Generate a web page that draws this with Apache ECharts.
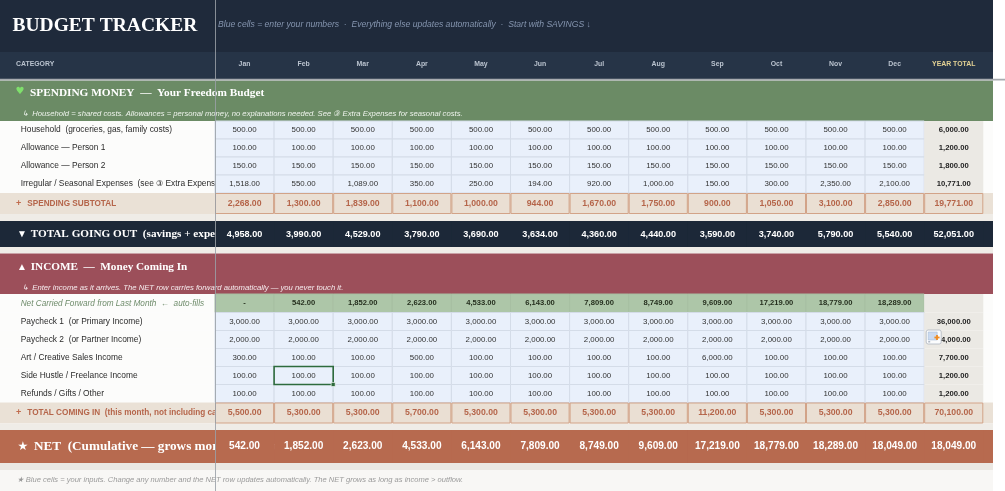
<!DOCTYPE html>
<html>
<head>
<meta charset="utf-8">
<script src="https://cdn.jsdelivr.net/npm/echarts@6/dist/echarts.min.js"></script>
<style>
  html, body { margin: 0; padding: 0; background: #fff; }
  #main { width: 1005px; height: 491px; }
</style>
</head>
<body>
<div id="main"></div>
<script>
// ---- values ----
const months = ['Jan', 'Feb', 'Mar', 'Apr', 'May', 'Jun', 'Jul', 'Aug', 'Sep', 'Oct', 'Nov', 'Dec'];
const totalColumn = 'YEAR TOTAL';

const spendingLabels = ['Household  (groceries, gas, family costs)', 'Allowance — Person 1', 'Allowance — Person 2', 'Irregular / Seasonal Expenses  (see ③ Extra Expenses)'];
const household  = [500, 500, 500, 500, 500, 500, 500, 500, 500, 500, 500, 500];
const allowance1 = [100, 100, 100, 100, 100, 100, 100, 100, 100, 100, 100, 100];
const allowance2 = [150, 150, 150, 150, 150, 150, 150, 150, 150, 150, 150, 150];
const irregular  = [1518, 550, 1089, 350, 250, 194, 920, 1000, 150, 300, 2350, 2100];
const spendingYear = [6000, 1200, 1800, 10771];
const spendingSubtotal = [2268, 1300, 1839, 1100, 1000, 944, 1670, 1750, 900, 1050, 3100, 2850];
const spendingSubtotalYear = 19771;
const totalGoingOut = [4958, 3990, 4529, 3790, 3690, 3634, 4360, 4440, 3590, 3740, 5790, 5540];
const totalGoingOutYear = 52051;

const carriedForward = [0, 542, 1852, 2623, 4533, 6143, 7809, 8749, 9609, 17219, 18779, 18289];
const incomeLabels = ['Paycheck 1  (or Primary Income)', 'Paycheck 2  (or Partner Income)', 'Art / Creative Sales Income', 'Side Hustle / Freelance Income', 'Refunds / Gifts / Other'];
const paycheck1 = [3000, 3000, 3000, 3000, 3000, 3000, 3000, 3000, 3000, 3000, 3000, 3000];
const paycheck2 = [2000, 2000, 2000, 2000, 2000, 2000, 2000, 2000, 2000, 2000, 2000, 2000];
const artSales  = [300, 100, 100, 500, 100, 100, 100, 100, 6000, 100, 100, 100];
const sideHustle = [100, 100, 100, 100, 100, 100, 100, 100, 100, 100, 100, 100];
const refunds   = [100, 100, 100, 100, 100, 100, 100, 100, 100, 100, 100, 100];
const incomeYear = [36000, 24000, 7700, 1200, 1200];
const totalComingIn = [5500, 5300, 5300, 5700, 5300, 5300, 5300, 5300, 11200, 5300, 5300, 5300];
const totalComingInYear = 70100;
const netCumulative = [542, 1852, 2623, 4533, 6143, 7809, 8749, 9609, 17219, 18779, 18289, 18049];
const netYear = 18049;

// ---- row layout (pixel top / bottom of each sheet row) ----
const layout = {
  title: [0, 52], header: [52, 79], spendHead: [80.5, 121],
  household: [121, 139], allow1: [139, 157], allow2: [157, 175], irregular: [175, 193],
  spendSub: [193, 214], gap1: [214, 221], goingOut: [221, 247], gap2: [247, 253.5],
  incomeHead: [253.5, 294], carried: [294, 312.5],
  pay1: [312.5, 330.5], pay2: [330.5, 348.5], art: [348.5, 366.5], side: [366.5, 384.5], refunds: [384.5, 402.5],
  inSub: [402.5, 423.5], gap3: [423.5, 430], net: [430, 463], gap4: [463, 470], foot: [470, 491]
};

const SANS = '"Liberation Sans", Arial, sans-serif';
const SERIF = '"Liberation Serif", "Times New Roman", serif';

// table rows built from the arrays above
const tableRows = [
  { key: 'household', kind: 'input', label: spendingLabels[0], values: household, total: spendingYear[0] },
  { key: 'allow1', kind: 'input', label: spendingLabels[1], values: allowance1, total: spendingYear[1] },
  { key: 'allow2', kind: 'input', label: spendingLabels[2], values: allowance2, total: spendingYear[2] },
  { key: 'irregular', kind: 'input', label: spendingLabels[3], values: irregular, total: spendingYear[3] },
  { key: 'spendSub', kind: 'sub', values: spendingSubtotal, total: spendingSubtotalYear },
  { key: 'goingOut', kind: 'dark', values: totalGoingOut, total: totalGoingOutYear },
  { key: 'carried', kind: 'carried', label: 'Net Carried Forward from Last Month  ←  auto-fills', values: carriedForward, total: null },
  { key: 'pay1', kind: 'input', label: incomeLabels[0], values: paycheck1, total: incomeYear[0] },
  { key: 'pay2', kind: 'input', label: incomeLabels[1], values: paycheck2, total: incomeYear[1] },
  { key: 'art', kind: 'input', label: incomeLabels[2], values: artSales, total: incomeYear[2] },
  { key: 'side', kind: 'input', label: incomeLabels[3], values: sideHustle, total: incomeYear[3] },
  { key: 'refunds', kind: 'input', label: incomeLabels[4], values: refunds, total: incomeYear[4] },
  { key: 'inSub', kind: 'sub', values: totalComingIn, total: totalComingInYear },
  { key: 'net', kind: 'net', values: netCumulative, total: netYear }
];

const cells = [];
tableRows.forEach((row, r) => {
  row.values.forEach((v, i) => cells.push({ col: i, row: r, value: v }));
  cells.push({ col: 12, row: r, value: row.total });
});

function fmt(v) {
  if (v === null || v === undefined) return '';
  if (v === 0) return '-';
  return v.toLocaleString('en-US', { minimumFractionDigits: 2, maximumFractionDigits: 2 });
}

function cellStyle(kind, isTotal) {
  if (kind === 'input') {
    return isTotal
      ? { fill: '#ebe9e4', stroke: null, font: 'bold 7.7px ' + SANS, color: '#1d1d1d' }
      : { fill: '#e9f0fb', stroke: '#d4dce8', font: '7.9px ' + SANS, color: '#333' };
  }
  if (kind === 'carried') {
    return isTotal
      ? { fill: '#ebe9e4', stroke: null, font: 'bold 7.6px ' + SANS, color: '#222' }
      : { fill: '#adc6a8', stroke: '#a7bfa2', font: 'bold 7.6px ' + SANS, color: '#26301f' };
  }
  if (kind === 'sub') return { fill: '#eadfd3', stroke: '#d2a388', font: 'bold 8.7px ' + SANS, color: '#b5654a', inset: 0.5 };
  if (kind === 'dark') return { fill: '#1c2838', stroke: null, font: 'bold 9.1px ' + SANS, color: '#fff' };
  return { fill: '#b76a4f', stroke: null, font: 'bold 10.1px ' + SANS, color: '#fff' };
}

function cellBox(api, col, key) {
  const [top, bottom] = layout[key];
  const p0 = api.coord([col, top]);
  const p1 = api.coord([col, bottom]);
  const w = api.size([1, 0])[0];
  return { cx: p0[0], x: p0[0] - w / 2, y: p0[1], w: w, h: p1[1] - p0[1] };
}

function renderCell(params, api) {
  const cell = cells[params.dataIndex];
  const row = tableRows[cell.row];
  const b = cellBox(api, cell.col, row.key);
  const st = cellStyle(row.kind, cell.col === 12);
  const ins = st.inset || 0;
  return {
    type: 'group',
    children: [
      { type: 'rect', shape: { x: b.x + ins, y: b.y + ins, width: b.w - 2 * ins, height: b.h - 2 * ins },
        style: { fill: st.fill, stroke: st.stroke, lineWidth: st.stroke ? 1 : 0 } },
      { type: 'text', x: b.cx, y: b.y + b.h / 2,
        style: { text: fmt(cell.value), align: 'center', verticalAlign: 'middle', font: st.font, fill: st.color } }
    ]
  };
}

// selected cell (Feb, Side Hustle) and the paste-options button over Paycheck 2 total
const overlays = [
  { type: 'selection', col: 1, key: 'side' },
  { type: 'paste', col: 12, key: 'pay2' }
];
function renderOverlay(params, api) {
  const o = overlays[params.dataIndex];
  const b = cellBox(api, o.col, o.key);
  if (o.type === 'selection') {
    return { type: 'group', children: [
      { type: 'rect', shape: { x: b.x, y: b.y, width: b.w, height: b.h }, style: { fill: null, stroke: '#2e6b3d', lineWidth: 1.6 } },
      { type: 'rect', shape: { x: b.x + b.w - 2, y: b.y + b.h - 2, width: 4, height: 4 }, style: { fill: '#2e6b3d', stroke: '#fff', lineWidth: 0.6 } }
    ] };
  }
  const x = b.x + 2, y = b.y - 0.5;
  return { type: 'group', children: [
    { type: 'rect', shape: { x: x, y: y, width: 15, height: 14, r: 2 }, style: { fill: '#fbfcfd', stroke: '#aeb5bf', lineWidth: 0.8 } },
    { type: 'rect', shape: { x: x + 2, y: y + 2, width: 9, height: 8 }, style: { fill: '#cbdaf0', stroke: '#9fb4d3', lineWidth: 0.5 } },
    { type: 'rect', shape: { x: x + 2, y: y + 11, width: 2, height: 1.5 }, style: { fill: '#b0b8c4' } },
    { type: 'rect', shape: { x: x + 8.2, y: y + 6.6, width: 5.2, height: 1.8 }, style: { fill: '#f08c22' } },
    { type: 'rect', shape: { x: x + 9.9, y: y + 4.9, width: 1.8, height: 5.2 }, style: { fill: '#f08c22' } }
  ] };
}

// ---- sheet chrome ----
const graphic = [];
function band(key, color, width) {
  const [t, b] = layout[key];
  graphic.push({ type: 'rect', z: 0, shape: { x: 0, y: t, width: width || 993, height: b - t }, style: { fill: color } });
}
function label(x, y, text, font, fill) {
  graphic.push({ type: 'text', z: 1, x: x, y: y, style: { text: text, font: font, fill: fill, align: 'left', verticalAlign: 'middle' } });
}
function mid(key) { return (layout[key][0] + layout[key][1]) / 2; }

band('title', '#1f2a3b');
band('header', '#263447');
band('spendHead', '#6b8b65');
['household', 'allow1', 'allow2', 'irregular', 'carried', 'pay1', 'pay2', 'art', 'side', 'refunds'].forEach(k => band(k, '#fcfcfb'));
band('spendSub', '#eae1d6');
band('gap1', '#efece7');
band('goingOut', '#1c2838');
band('gap2', '#efece7');
band('incomeHead', '#9c4f5a');
band('inSub', '#eae1d6');
band('gap3', '#efece7');
band('net', '#b76a4f');
band('gap4', '#ebe8e3');
band('foot', '#f8f7f5');
graphic.push({ type: 'rect', z: 0, shape: { x: 0, y: 78.8, width: 1005, height: 1.7 }, style: { fill: '#a7abb0' } });

label(12.5, 25.5, 'BUDGET TRACKER', 'bold 19.5px ' + SERIF, '#ffffff');
label(218, 25, 'Blue cells = enter your numbers  ·  Everything else updates automatically  ·  Start with SAVINGS ↓', 'italic 8.6px ' + SANS, '#8595af');
label(16, 64, 'CATEGORY', 'bold 6.9px ' + SANS, '#b9c2ce');

label(15.5, 91.5, '♥', '10px "DejaVu Sans"', '#7fe06c');
label(30, 93, 'SPENDING MONEY  —  Your Freedom Budget', 'bold 11.3px ' + SERIF, '#ffffff');
label(22, 114, '↳  Household = shared costs. Allowances = personal money, no explanations needed. See ③ Extra Expenses for seasonal costs.', 'italic 7.7px ' + SANS, '#eef3ec');

tableRows.forEach(row => {
  if (row.kind === 'input') label(20.7, mid(row.key), row.label, '8.4px ' + SANS, '#2b2b2b');
  if (row.kind === 'carried') label(20.7, mid(row.key), row.label, 'italic 8.2px ' + SANS, '#6f8c6b');
});

label(16, mid('spendSub') + 0.3, '+', 'bold 9px ' + SANS, '#c06b4d');
label(27.3, mid('spendSub') + 0.3, 'SPENDING SUBTOTAL', 'bold 8.2px ' + SANS, '#b5654a');
label(17, mid('goingOut'), '▼', 'bold 10px ' + SANS, '#ffffff');
label(30.7, mid('goingOut'), 'TOTAL GOING OUT  (savings + expenses)', 'bold 11.2px ' + SERIF, '#ffffff');

label(17, 267, '▲', 'bold 10px ' + SANS, '#ffffff');
label(30.7, 267, 'INCOME  —  Money Coming In', 'bold 11.2px ' + SERIF, '#ffffff');
label(22, 287.5, '↳  Enter income as it arrives. The NET row carries forward automatically — you never touch it.', 'italic 7.7px ' + SANS, '#f6ecee');

label(16, mid('inSub'), '+', 'bold 9px ' + SANS, '#c06b4d');
label(27.3, mid('inSub'), 'TOTAL COMING IN  (this month, not including carried forward)', 'bold 8.2px ' + SANS, '#b5654a');
label(17.5, mid('net'), '★', 'bold 12px "DejaVu Sans"', '#ffffff');
label(34, mid('net'), 'NET  (Cumulative — grows month to month)', 'bold 13.2px ' + SERIF, '#ffffff');

label(16.7, 480, '★ Blue cells = your inputs. Change any number and the NET row updates automatically. The NET grows as long as income > outflow.', 'italic 7.55px ' + SANS, '#9a9a9a');

// frozen-pane divider
graphic.push({ type: 'rect', z: 100, shape: { x: 215, y: 0, width: 1, height: 491 }, style: { fill: '#9aa0a7', opacity: 0.85 } });

const chart = echarts.init(document.getElementById('main'));
chart.setOption({
  animation: false,
  backgroundColor: '#ffffff',
  grid: { left: 215, right: 21.7, top: 0, bottom: 0 },
  xAxis: {
    type: 'category',
    data: months.concat([totalColumn]),
    position: 'top',
    offset: -64,
    axisLine: { show: false },
    axisTick: { show: false },
    splitLine: { show: false },
    axisLabel: {
      interval: 0,
      margin: 0,
      verticalAlign: 'middle',
      fontFamily: SANS,
      fontSize: 6.9,
      fontWeight: 'bold',
      color: v => (v === totalColumn ? '#e3d194' : '#b9c2ce')
    },
    z: 10
  },
  yAxis: { type: 'value', min: 0, max: 491, inverse: true, show: false },
  graphic: graphic,
  series: [
    {
      type: 'custom',
      z: 3,
      renderItem: renderCell,
      encode: { x: 0, y: 1 },
      data: cells.map(c => [c.col, c.row])
    },
    {
      type: 'custom',
      z: 5,
      renderItem: renderOverlay,
      encode: { x: 0, y: 1 },
      data: overlays.map(o => [o.col, 0])
    }
  ]
});
</script>
</body>
</html>
